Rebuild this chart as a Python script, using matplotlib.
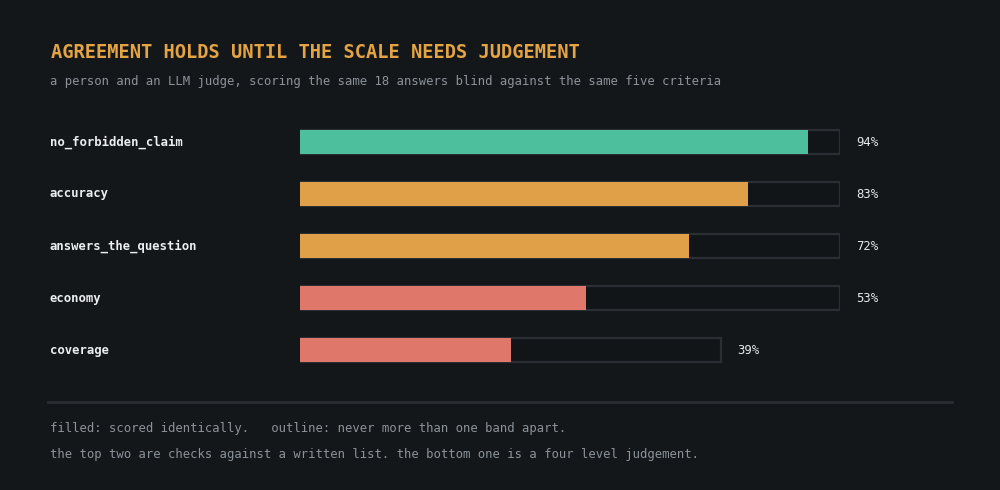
import matplotlib
matplotlib.use("Agg")
import matplotlib.pyplot as plt
from matplotlib.transforms import blended_transform_factory

# ---- data ----
criteria = ["no_forbidden_claim", "accuracy", "answers_the_question", "economy", "coverage"]
identical_pct = [94, 83, 72, 53, 39]          # filled: scored identically
within_one_pct = [100, 100, 100, 100, 78]     # outline: never more than one band apart
bar_colors = ["#4dbf9c", "#e0a048", "#e0a048", "#e0776b", "#e0776b"]

title = "AGREEMENT HOLDS UNTIL THE SCALE NEEDS JUDGEMENT"
subtitle = ("a person and an LLM judge, scoring the same 18 answers blind "
            "against the same five criteria")
note1 = "filled: scored identically.   outline: never more than one band apart."
note2 = ("the top two are checks against a written list. "
         "the bottom one is a four level judgement.")

BG = "#14171a"
MONO = ["DejaVu Sans Mono", "Liberation Mono"]

fig = plt.figure(figsize=(10, 4.9), dpi=100, facecolor=BG)
W, H = 1000, 490

ax = fig.add_axes([300 / W, (H - 376) / H, 540 / W, 260 / H])
ax.set_facecolor(BG)
ax.set_xlim(0, 100)
ax.set_ylim(len(criteria) - 0.5, -0.5)
ax.axis("off")

ypos = list(range(len(criteria)))
bh = 24 / 52
ax.barh(ypos, within_one_pct, height=bh, left=0, color="#121518",
        edgecolor="#2b2f34", linewidth=1.6, zorder=1)
ax.barh(ypos, identical_pct, height=bh, left=0, color=bar_colors,
        edgecolor="none", linewidth=0, zorder=2)

for y, w, p in zip(ypos, within_one_pct, identical_pct):
    ax.annotate(f"{p}%", xy=(w, y), xytext=(11.5, 0), textcoords="offset points",
                va="center", ha="left", color="#e6e8ea", fontsize=8.8,
                family=MONO, annotation_clip=False)

tr = blended_transform_factory(fig.transFigure, ax.transData)
for y, name in zip(ypos, criteria):
    ax.text(50 / W, y, name, transform=tr, va="center", ha="left",
            color="#eceef0", fontsize=8.8, fontweight="bold", family=MONO)

fig.text(51 / W, 1 - 52 / H, title, color="#e5a443", fontsize=13.5,
         fontweight="bold", family=MONO, va="center", ha="left")
fig.text(50 / W, 1 - 82 / H, subtitle, color="#8b9399", fontsize=8.87,
         family=MONO, va="center", ha="left")

fig.add_artist(plt.Line2D([48 / W, 952 / W], [1 - 402 / H, 1 - 402 / H],
                          transform=fig.transFigure, color="#2a2e32", linewidth=2))

fig.text(50 / W, 1 - 428 / H, note1, color="#8b9399", fontsize=8.82,
         family=MONO, va="center", ha="left")
fig.text(50 / W, 1 - 454 / H, note2, color="#8b9399", fontsize=8.82,
         family=MONO, va="center", ha="left")

fig.savefig("out.png", dpi=100, facecolor=BG)
